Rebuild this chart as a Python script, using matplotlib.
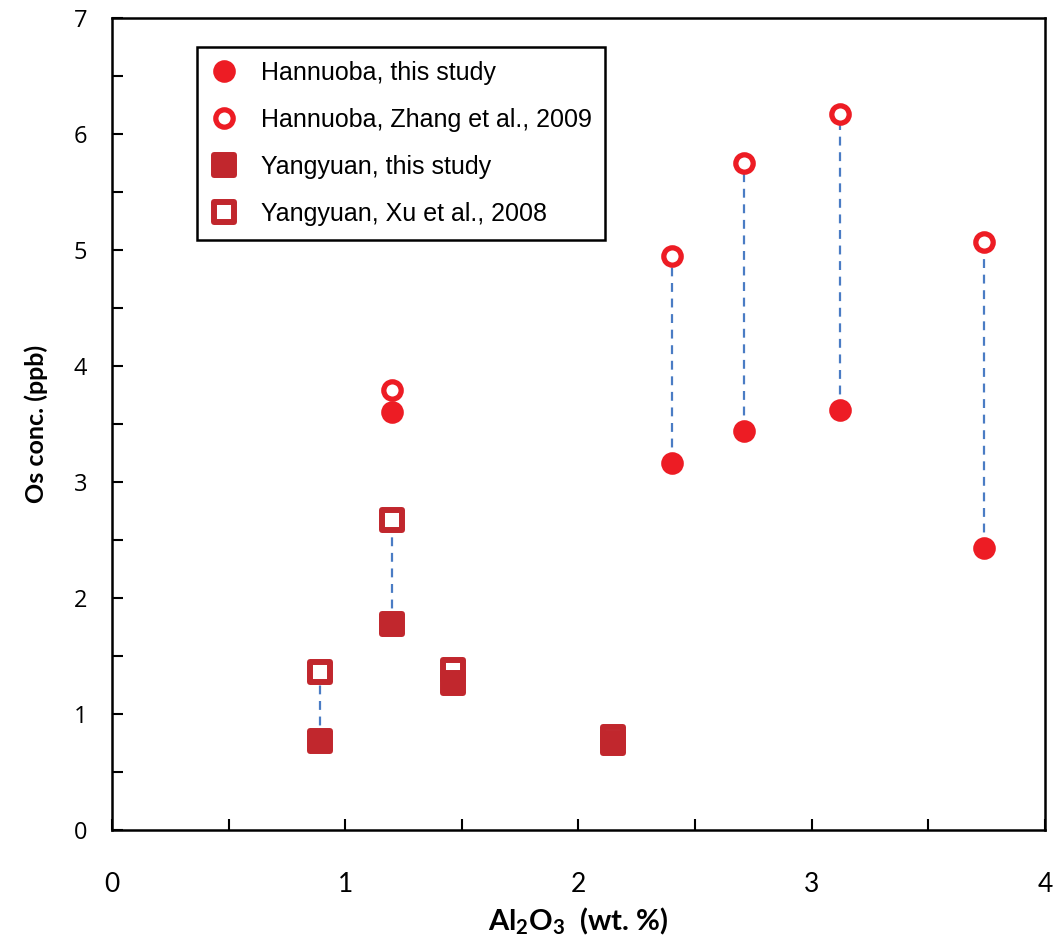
import matplotlib.pyplot as plt
from matplotlib.markers import MarkerStyle
from matplotlib.ticker import MultipleLocator

# Hannuoba (circles)
han_al = [1.20, 2.40, 2.71, 3.12, 3.74]
han_os_this = [3.60, 3.16, 3.44, 3.62, 2.43]
han_os_zhang = [3.79, 4.95, 5.75, 6.17, 5.07]

# Yangyuan (squares)
yang_al = [0.89, 1.20, 1.46, 2.15]
yang_os_this = [0.77, 1.78, 1.27, 0.75]
yang_os_xu = [1.36, 2.67, 1.38, 0.80]

# pairs joined by a dashed tie line
han_tied = [False, True, True, True, True]
yang_tied = [True, True, False, False]

red = "#ED1C24"
dark_red = "#C1272D"
blue = "#4A7CC4"

fig = plt.figure(figsize=(10.6, 9.5), dpi=100)
ax = fig.add_axes([0.1057, 0.1263, 0.8801, 0.8547])

for x, a, b, t in zip(han_al, han_os_this, han_os_zhang, han_tied):
    if t:
        ax.plot([x, x], [a, b], color=blue, lw=1.6, ls=(0, (4, 3)), zorder=1)
for x, a, b, t in zip(yang_al, yang_os_this, yang_os_xu, yang_tied):
    if t:
        ax.plot([x, x], [a, b], color=blue, lw=1.6, ls=(0, (4, 3)), zorder=1)

circ = dict(marker="o", ls="none", ms=12.5, mew=3.8, mec=red)
sq = dict(marker=MarkerStyle("s", joinstyle="round"), ls="none",
          ms=14.0, mew=4.3, mec=dark_red)

h2, = ax.plot(han_al, han_os_zhang, mfc="white", zorder=2, **circ,
              label="Hannuoba, Zhang et al., 2009")
h4, = ax.plot(yang_al, yang_os_xu, mfc="white", zorder=2, **sq,
              label="Yangyuan, Xu et al., 2008")
h1, = ax.plot(han_al, han_os_this, mfc=red, zorder=3, **circ,
              label="Hannuoba, this study")
h3, = ax.plot(yang_al, yang_os_this, mfc=dark_red, zorder=3, **sq,
              label="Yangyuan, this study")

ax.set_xlim(0, 4)
ax.set_ylim(0, 7)
ax.xaxis.set_major_locator(MultipleLocator(1))
ax.xaxis.set_minor_locator(MultipleLocator(0.5))
ax.yaxis.set_major_locator(MultipleLocator(1))
ax.yaxis.set_minor_locator(MultipleLocator(0.5))
ax.tick_params(which="both", direction="in", length=8, width=1.5,
               top=False, right=False)
ax.tick_params(axis="x", which="major", pad=30, labelsize=19)
ax.tick_params(axis="y", which="major", pad=18, labelsize=17)
for lab in ax.get_xticklabels():
    lab.set_family(["Lato", "DejaVu Sans"])
for lab in ax.get_yticklabels():
    lab.set_family(["Open Sans", "DejaVu Sans"])
for s in ax.spines.values():
    s.set_linewidth(1.8)

ax.set_xlabel(r"Al$_\mathregular{2}$O$_\mathregular{3}$  (wt. %)", fontsize=21,
              fontweight="bold", family=["Lato", "DejaVu Sans"], labelpad=6)
ax.set_ylabel("Os conc. (ppb)", fontsize=18, fontweight="bold",
              family=["Lato", "DejaVu Sans"], labelpad=18)

leg = ax.legend(handles=[h1, h2, h3, h4], loc="upper left",
                bbox_to_anchor=(0.091, 0.964), borderaxespad=0,
                fancybox=False, edgecolor="black", framealpha=1,
                prop={"family": ["Liberation Sans", "DejaVu Sans"], "size": 18},
                labelspacing=0.92, handletextpad=0.9, borderpad=0.55,
                handlelength=1.1)
leg.get_frame().set_linewidth(1.8)

fig.savefig("out.png", dpi=100)
